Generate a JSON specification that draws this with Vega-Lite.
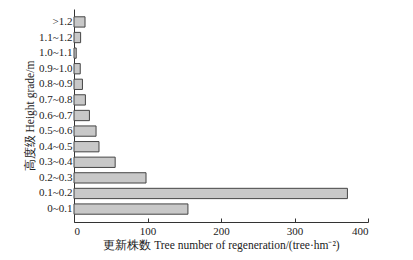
{
  "$schema": "https://vega.github.io/schema/vega-lite/v6.json",
  "width": 294,
  "height": 213,
  "autosize": {"type": "none"},
  "padding": {"left": 74, "top": 9, "right": 45, "bottom": 38},
  "background": "white",
  "data": {"values": [
    {"grade": "0~0.1", "n": 155},
    {"grade": "0.1~0.2", "n": 372},
    {"grade": "0.2~0.3", "n": 98},
    {"grade": "0.3~0.4", "n": 56},
    {"grade": "0.4~0.5", "n": 34},
    {"grade": "0.5~0.6", "n": 30},
    {"grade": "0.6~0.7", "n": 21},
    {"grade": "0.7~0.8", "n": 15.5},
    {"grade": "0.8~0.9", "n": 11.5},
    {"grade": "0.9~1.0", "n": 8.5},
    {"grade": "1.0~1.1", "n": 3},
    {"grade": "1.1~1.2", "n": 9},
    {"grade": ">1.2", "n": 15}
  ]},
  "config": {
    "view": {"stroke": null},
    "axis": {
      "labelFont": "Liberation Serif",
      "titleFont": "Liberation Serif",
      "labelFontSize": 11,
      "titleFontSize": 11.5,
      "labelColor": "#222",
      "titleColor": "#222",
      "domainColor": "#333",
      "tickColor": "#333",
      "grid": false,
      "titleFontWeight": "normal"
    }
  },
  "mark": {"type": "bar", "fill": "#c8c8c8", "stroke": "#444", "strokeWidth": 1},
  "encoding": {
    "y": {
      "field": "grade",
      "type": "nominal",
      "sort": [">1.2", "1.1~1.2", "1.0~1.1", "0.9~1.0", "0.8~0.9", "0.7~0.8", "0.6~0.7", "0.5~0.6", "0.4~0.5", "0.3~0.4", "0.2~0.3", "0.1~0.2", "0~0.1"],
      "scale": {"paddingInner": 0.34, "paddingOuter": 0.5},
      "axis": {"title": "高度级 Height grade/m", "ticks": false, "labelPadding": 2, "titlePadding": 3}
    },
    "x": {
      "field": "n",
      "type": "quantitative",
      "scale": {"domain": [0, 400], "nice": false},
      "axis": {"title": "更新株数 Tree number of regeneration/(tree·hm⁻²)", "values": [0, 100, 200, 300, 400], "tickSize": -4, "labelPadding": 7, "titlePadding": 3}
    }
  }
}
